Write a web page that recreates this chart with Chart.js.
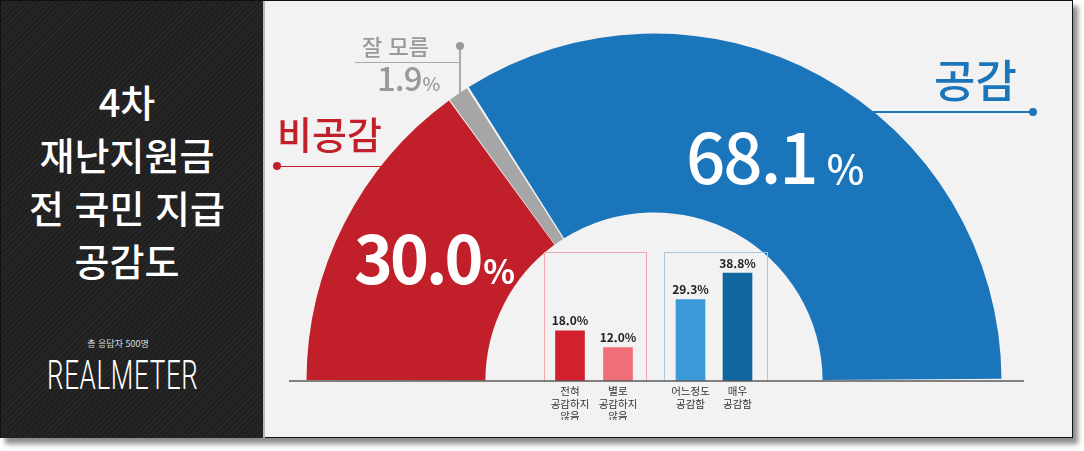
<!DOCTYPE html>
<html lang="ko">
<head>
<meta charset="utf-8">
<title>4차 재난지원금 전 국민 지급 공감도</title>
<script src="https://cdn.jsdelivr.net/npm/chart.js@4.4.1/dist/chart.umd.min.js"></script>
<style>
  html, body { margin: 0; padding: 0; background: #fff; }
  #page { position: relative; width: 1084px; height: 451px; overflow: hidden; font-family: "Noto Sans CJK KR", "Noto Sans", sans-serif; }
  #frame { position: absolute; left: 0; top: 0; width: 1071px; height: 436px; border: 1.5px solid #111; background: #f2f2f2; box-shadow: 5px 6px 5px rgba(0,0,0,0.45); }
  #side { position: absolute; left: 1px; top: 1px; width: 262px; height: 437px; border-right: 2px solid #b8b8b8;
    background: repeating-linear-gradient(135deg, #262626 0px, #262626 2px, #1f1f1f 2px, #1f1f1f 4px); }
  .abs { position: absolute; white-space: nowrap; line-height: 1; }
  #title { left: 0; width: 254px; top: 74px; text-align: center; color: #fff; font-size: 38px; font-weight: 500; line-height: 53px; white-space: normal; }
  #resp { left: 0; width: 236px; top: 339px; text-align: center; color: #ddd; font-size: 9px; }
  #brand { left: 47px; top: 356px; color: #fff; font-family: Roboto, sans-serif; font-weight: 300; font-size: 40px; letter-spacing: 1px; transform: scaleX(0.65); transform-origin: 0 0; }
  canvas { position: absolute; }
  .line { position: absolute; }
  .dot { position: absolute; width: 8px; height: 8px; border-radius: 50%; }
  .box { position: absolute; border: 1px solid; border-bottom: none; }
</style>
</head>
<body>
<div id="page">
  <div id="frame"></div>
  <div id="side"></div>
  <div id="title" class="abs">4차<br>재난지원금<br>전 국민 지급<br>공감도</div>
  <div id="resp" class="abs">총 응답자 500명</div>
  <div id="brand" class="abs">REALMETER</div>

  <canvas id="donut" width="708" height="362" style="left:300px; top:27px;"></canvas>

  <div class="box" style="left:544px; top:252px; width:101px; height:129px; border-color:#f0a7ad;"></div>
  <div class="box" style="left:664px; top:252px; width:102px; height:129px; border-color:#a9c8e0;"></div>
  <canvas id="barsNeg" width="96" height="180" style="left:546px; top:240px;"></canvas>
  <canvas id="barsPos" width="94" height="180" style="left:667px; top:240px;"></canvas>

  <!-- baseline -->
  <div class="line" style="left:289px; top:380px; width:735px; height:1.5px; background:rgba(90,90,90,0.75);"></div>

  <!-- callouts -->
  <div class="line" style="left:277px; top:166px; width:105px; height:1px; background:#c1202a;"></div>
  <div class="dot" style="left:273px; top:162px; background:#c1202a;"></div>
  <div id="lblNeg" class="abs" style="left:277px; top:114px; color:#c1202a; font-size:38px; font-weight:500;"></div>

  <div class="line" style="left:355px; top:62px; width:105px; height:1px; background:#aaa;"></div>
  <div class="line" style="left:459px; top:46px; width:1.5px; height:49px; background:#aaa;"></div>
  <div class="dot" style="left:456px; top:42px; background:#999;"></div>
  <div id="lblDk" class="abs" style="left:362px; top:34px; color:#999; font-size:22px; font-weight:500;"></div>
  <div id="valDk" class="abs" style="left:377px; top:61px; color:#999; font-size:33px; font-weight:500; letter-spacing:-1px;"></div>

  <div class="line" style="left:870px; top:111px; width:163px; height:1.5px; background:#1b75bb;"></div>
  <div class="dot" style="left:1029px; top:108px; background:#1b75bb;"></div>
  <div id="lblPos" class="abs" style="left:934px; top:56px; color:#1b75bb; font-size:45px; font-weight:500;"></div>

  <div id="valNeg" class="abs" style="left:354px; top:222px; color:#fff; font-size:66px; font-weight:700; letter-spacing:-3px;"></div>
  <div id="valPos" class="abs" style="left:686px; top:120px; color:#fff; font-size:69px; font-weight:500; letter-spacing:-2px;"></div>
</div>

<script>
// main half doughnut
const mainLabels = ['비공감', '잘 모름', '공감'];
const mainValues = [30.0, 1.9, 68.1];
const mainColors = ['#c1202a', '#a6a6a6', '#1b75bb'];

// detail bars (inside the doughnut)
const negLabels = [['전혀', '공감하지', '않음'], ['별로', '공감하지', '않음']];
const negValues = [18.0, 12.0];
const negColors = ['#d3202f', '#ef6f78'];

const posLabels = [['어느정도', '공감함'], ['매우', '공감함']];
const posValues = [29.3, 38.8];
const posColors = ['#3d9ad9', '#11669f'];

const yMax = 43.5;

// text labels
function pct(v, size, gap) {
    return v.toFixed(1) + '<span style="font-size:' + size + 'px; letter-spacing:0; margin-left:' + gap + 'px;">%</span>';
}
document.getElementById('lblNeg').textContent = mainLabels[0];
document.getElementById('lblDk').textContent = mainLabels[1];
document.getElementById('lblPos').textContent = mainLabels[2];
document.getElementById('valNeg').innerHTML = pct(mainValues[0], 33, 3);
document.getElementById('valDk').innerHTML = pct(mainValues[1], 19, 1);
document.getElementById('valPos').innerHTML = pct(mainValues[2], 40, 10);

new Chart(document.getElementById('donut'), {
    type: 'doughnut',
    data: {
        labels: mainLabels,
        datasets: [{
            data: mainValues,
            backgroundColor: mainColors,
            borderWidth: 0,
            spacing: 3
        }]
    },
    options: {
        responsive: false,
        animation: false,
        rotation: -90,
        circumference: 180,
        radius: 346,
        cutout: '48.3%',
        plugins: { legend: { display: false }, tooltip: { enabled: false } }
    }
});

// percent labels above the small bars
const valueLabels = {
    id: 'valueLabels',
    afterDatasetsDraw(chart) {
        const ctx = chart.ctx;
        const ds = chart.data.datasets[0];
        chart.getDatasetMeta(0).data.forEach((bar, i) => {
            ctx.save();
            ctx.font = '600 12px "Noto Sans CJK KR", "Noto Sans", sans-serif';
            ctx.fillStyle = '#222';
            ctx.textAlign = 'center';
            ctx.textBaseline = 'bottom';
            ctx.fillText(ds.data[i].toFixed(1) + '%', bar.x, bar.y - 4);
            ctx.restore();
        });
    }
};

function makeBars(id, labels, values, colors) {
    return new Chart(document.getElementById(id), {
        type: 'bar',
        data: {
            labels: labels,
            datasets: [{
                data: values,
                backgroundColor: colors,
                barThickness: 29,
                borderWidth: 0
            }]
        },
        options: {
            responsive: false,
            animation: false,
            layout: { padding: { top: 20, left: 0, right: 0, bottom: 0 } },
            scales: {
                x: {
                    grid: { display: false, drawTicks: false },
                    border: { display: false },
                    ticks: {
                        autoSkip: false,
                        maxRotation: 0,
                        padding: 4,
                        color: '#333',
                        font: { family: '"Noto Sans CJK KR", sans-serif', size: 10.5, lineHeight: 1.2 }
                    },
                    afterFit: (scale) => { scale.height = 39; }
                },
                y: { display: false, min: 0, max: yMax }
            },
            plugins: { legend: { display: false }, tooltip: { enabled: false } }
        },
        plugins: [valueLabels]
    });
}

makeBars('barsNeg', negLabels, negValues, negColors);
makeBars('barsPos', posLabels, posValues, posColors);
</script>
</body>
</html>
